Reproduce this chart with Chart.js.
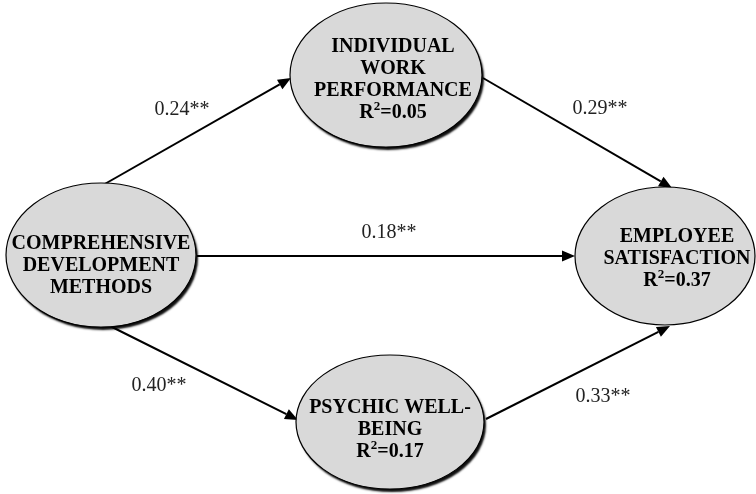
<!DOCTYPE html>
<html>
<head>
<meta charset="utf-8">
<script src="https://cdn.jsdelivr.net/npm/chart.js@4"></script>
<style>
html,body{margin:0;padding:0;background:#fff;}
#wrap{width:756px;height:494px;position:relative;}
</style>
</head>
<body>
<div id="wrap"><canvas id="c" width="756" height="494"></canvas></div>
<script>
// ---- data ----
const nodeLines = [
  ['COMPREHENSIVE', 'DEVELOPMENT', 'METHODS'],
  ['INDIVIDUAL', 'WORK', 'PERFORMANCE'],
  ['PSYCHIC WELL-', 'BEING'],
  ['EMPLOYEE', 'SATISFACTION']
];
const nodeR2 = [null, '0.05', '0.17', '0.37'];
const pathFrom = [0, 1, 0, 0, 2];
const pathTo   = [1, 3, 3, 2, 3];
const pathCoef = ['0.24', '0.29', '0.18', '0.40', '0.33'];
const pathSig  = ['**', '**', '**', '**', '**'];

// ---- layout (positions/sizes, in axis units = px) ----
const nodeGeom = [
  {cx: 101, cy: 255, rx: 95, ry: 72, tx: 101, ty: 266, shadow: true},
  {cx: 386, cy: 75,  rx: 96, ry: 72, tx: 393, ty: 80,  shadow: true},
  {cx: 390, cy: 422, rx: 94, ry: 67, tx: 390, ty: 430, shadow: true},
  {cx: 665, cy: 256, rx: 90, ry: 69, tx: 677, ty: 259, shadow: false}
];
const pathGeom = [
  {x1: 103, y1: 185, x2: 291, y2: 78,  lx: 182, ly: 110},
  {x1: 483, y1: 78,  x2: 672, y2: 188, lx: 600, ly: 109},
  {x1: 197, y1: 256, x2: 575, y2: 256, lx: 389, ly: 233},
  {x1: 110, y1: 326, x2: 298, y2: 420, lx: 159, ly: 386},
  {x1: 486, y1: 419, x2: 670, y2: 326, lx: 603, ly: 397}
];

const diagramPlugin = {
  id: 'diagram',
  afterDatasetsDraw(chart) {
    const ctx = chart.ctx;
    const xs = chart.scales.x, ys = chart.scales.y;
    const X = v => xs.getPixelForValue(v);
    const Y = v => ys.getPixelForValue(v);

    // arrows
    ctx.save();
    ctx.strokeStyle = '#000';
    ctx.fillStyle = '#000';
    ctx.lineWidth = 2;
    pathFrom.forEach((f, i) => {
      const g = pathGeom[i];
      const x1 = X(g.x1), y1 = Y(g.y1), x2 = X(g.x2), y2 = Y(g.y2);
      const ang = Math.atan2(y2 - y1, x2 - x1);
      const hl = 13, hw = 5.5;
      const bx = x2 - hl * Math.cos(ang), by = y2 - hl * Math.sin(ang);
      ctx.beginPath();
      ctx.moveTo(x1, y1);
      ctx.lineTo(bx, by);
      ctx.stroke();
      ctx.beginPath();
      ctx.moveTo(x2, y2);
      ctx.lineTo(bx + hw * Math.sin(ang), by - hw * Math.cos(ang));
      ctx.lineTo(bx - hw * Math.sin(ang), by + hw * Math.cos(ang));
      ctx.closePath();
      ctx.fill();
    });
    ctx.restore();

    // nodes
    nodeLines.forEach((lines, i) => {
      const g = nodeGeom[i];
      const cx = X(g.cx), cy = Y(g.cy);
      const rx = Math.abs(X(g.cx + g.rx) - cx), ry = Math.abs(Y(g.cy + g.ry) - cy);
      ctx.save();
      if (g.shadow) {
        ctx.shadowColor = 'rgba(0,0,0,0.95)';
        ctx.shadowBlur = 2;
        ctx.shadowOffsetX = 2;
        ctx.shadowOffsetY = 3;
      }
      ctx.beginPath();
      ctx.ellipse(cx, cy, rx, ry, 0, 0, Math.PI * 2);
      ctx.fillStyle = '#d9d9d9';
      ctx.fill();
      ctx.restore();
      ctx.save();
      ctx.beginPath();
      ctx.ellipse(cx, cy, rx, ry, 0, 0, Math.PI * 2);
      ctx.strokeStyle = '#000';
      ctx.lineWidth = 1.2;
      ctx.stroke();

      // text
      const all = lines.slice();
      const hasR2 = nodeR2[i] !== null;
      const n = all.length + (hasR2 ? 1 : 0);
      const lh = 22;
      const tx = X(g.tx), ty = Y(g.ty);
      let y0 = ty - (n - 1) * lh / 2;
      ctx.fillStyle = '#000';
      ctx.textBaseline = 'middle';
      ctx.textAlign = 'center';
      ctx.font = 'bold 20px "Liberation Serif", "Times New Roman", serif';
      all.forEach((t, k) => ctx.fillText(t, tx, y0 + k * lh));
      if (hasR2) {
        const yy = y0 + all.length * lh;
        const bigF = 'bold 20px "Liberation Serif", "Times New Roman", serif';
        const smF = 'bold 13px "Liberation Serif", "Times New Roman", serif';
        ctx.font = bigF; const wR = ctx.measureText('R').width;
        const rest = '=' + nodeR2[i]; const wRest = ctx.measureText(rest).width;
        ctx.font = smF; const w2 = ctx.measureText('2').width;
        const tot = wR + w2 + wRest;
        let sx = tx - tot / 2;
        ctx.textAlign = 'left';
        ctx.font = bigF; ctx.fillText('R', sx, yy); sx += wR;
        ctx.font = smF; ctx.fillText('2', sx, yy - 6); sx += w2;
        ctx.font = bigF; ctx.fillText(rest, sx, yy);
      }
      ctx.restore();
    });

    // path labels
    ctx.save();
    ctx.fillStyle = '#222';
    ctx.textAlign = 'center';
    ctx.textBaseline = 'middle';
    ctx.font = '20px "Liberation Serif", "Times New Roman", serif';
    pathCoef.forEach((c, i) => {
      const g = pathGeom[i];
      ctx.fillText(c + pathSig[i], X(g.lx), Y(g.ly));
    });
    ctx.restore();
  }
};

new Chart(document.getElementById('c'), {
  type: 'scatter',
  data: {
    datasets: [{
      data: nodeGeom.map(g => ({x: g.cx, y: g.cy})),
      pointRadius: 0,
      showLine: false
    }]
  },
  options: {
    responsive: false,
    animation: false,
    layout: {padding: 0},
    plugins: {legend: {display: false}, tooltip: {enabled: false}},
    scales: {
      x: {type: 'linear', min: 0, max: 756, display: false},
      y: {type: 'linear', min: 0, max: 494, reverse: true, display: false}
    }
  },
  plugins: [diagramPlugin]
});
</script>
</body>
</html>
